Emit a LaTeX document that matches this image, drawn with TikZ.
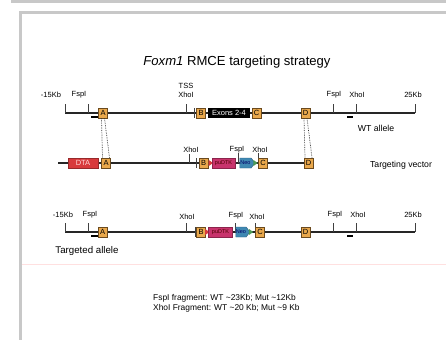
\documentclass[tikz,border=0pt]{standalone}
\usepackage{fontspec}
\setmainfont{Liberation Sans}
\usetikzlibrary{shapes.geometric,shapes.symbols}
\definecolor{boxor}{HTML}{E9A84C}
\definecolor{boxed}{HTML}{6B4A1E}
\definecolor{dtared}{HTML}{D83A3C}
\definecolor{pumag}{HTML}{C8336C}
\definecolor{neoblue}{HTML}{3F88B2}
\definecolor{neogreen}{HTML}{4C9A55}
\definecolor{frameg}{HTML}{C8C8C8}
\tikzset{
  lbl/.style={inner sep=0pt, font=\fontsize{7.5}{8}\selectfont},
  seg/.style={draw=boxed, fill=boxor, line width=0.6pt, minimum width=9pt, minimum height=10pt, inner sep=0pt, font=\fontsize{7.5}{8}\selectfont},
  mainline/.style={line width=1.1pt, draw=black!85},
  tk/.style={line width=0.7pt, draw=black!75},
  probe/.style={line width=2pt},
  exonbox/.style={fill=black, text=white, minimum width=42pt, minimum height=10pt, inner sep=0pt, font=\fontsize{7.5}{8}\selectfont},
  dtabox/.style={draw=dtared!70!black, fill=dtared, text=white!85!red, minimum width=30pt, minimum height=10pt, inner sep=0pt, line width=0.4pt, font=\fontsize{7.5}{8}\selectfont},
  pubox/.style={draw=pumag!70!black, fill=pumag, text=black!70!red, minimum height=10pt, inner sep=0pt, line width=0.4pt, font=\fontsize{5.5}{6}\selectfont},
  neobox/.style={signal, signal to=east, signal pointer angle=110, draw=neoblue!70!black, fill=neoblue, text=black!60!blue, minimum height=10pt, inner sep=0pt, line width=0.4pt, font=\fontsize{5.5}{6}\selectfont},
  redtri/.style={isosceles triangle, fill=dtared, minimum width=6pt, minimum height=3pt, inner sep=0pt, isosceles triangle apex angle=70},
  greentri/.style={isosceles triangle, fill=neogreen, minimum width=6pt, minimum height=4pt, inner sep=0pt, isosceles triangle apex angle=70},
  dots/.style={densely dotted, line width=0.7pt, draw=black!80},
  side/.style={inner sep=0pt, font=\fontsize{8.7}{9}\selectfont}
}
\begin{document}
\begin{tikzpicture}[x=1pt,y=-1pt]
\useasboundingbox (0,0) rectangle (446,340);
\fill[white] (0,0) rectangle (446,340);
% frame
\fill[frameg] (11,0) rectangle (446,3);
\fill[frameg] (19,11) rectangle (446,13.5);
\fill[frameg] (19,11) rectangle (22,340);
% faint separator
\draw[red!12, line width=0.6pt] (22,264) -- (446,264);

% title
\node[inner sep=0pt, font=\fontsize{13.1}{14}\selectfont] (title) at (237,62) {\textit{Foxm1} RMCE targeting strategy};

%% ---------- WT allele ----------
\coordinate (wtL) at (65,113);
\coordinate (wtR) at (415,113);
\draw[mainline] (wtL) -- (wtR);
\foreach \x in {65,88,186,333,356,415} \draw[tk] (\x,113) -- (\x,103.5);
\draw[tk] (194,108) -- (194,118);
\node[lbl] (wt15) at (51,95) {-15Kb};
\node[lbl] (wtF1) at (79,95) {FspI};
\node[lbl] (wtTSS) at (186,85.5) {TSS};
\node[lbl] (wtX1) at (186,95) {XhoI};
\node[lbl] (wtF2) at (334,95) {FspI};
\node[lbl] (wtX2) at (357,95) {XhoI};
\node[lbl] (wt25) at (413,95) {25Kb};
\draw[probe] (91,116.5) -- (98,116.5);
\draw[probe] (347,116.5) -- (353,116.5);
\node[seg] (Awt) at (103,113) {A};
\node[seg] (Bwt) at (201,113) {B};
\node[exonbox] (Ewt) at (229,113) {Exons 2-4};
\node[seg] (Cwt) at (256.5,113) {C};
\node[seg] (Dwt) at (305.5,113) {D};
\node[side] (wtlab) at (376,128) {WT allele};

%% ---------- Targeting vector ----------
\coordinate (tvL) at (58,163);
\node[seg] (Dtv) at (308.5,163) {D};
\draw[mainline] (tvL) -- (Dtv.west);
\draw[tk] (189,163) -- (189,154);
\draw[tk] (238,163) -- (238,152.5);
\draw[tk] (258,163) -- (258,153);
\draw[tk] (196,158) -- (196,168);
\node[lbl] (tvX1) at (191,149.5) {XhoI};
\node[lbl] (tvF1) at (237,149.5) {FspI};
\node[lbl] (tvX2) at (260,149.5) {XhoI};
\node[dtabox] (DTA) at (83,163) {DTA};
\node[seg] (Atv) at (106,163) {A};
\node[seg] (Btv) at (203.5,163) {B};
\node[redtri] (rtv) at (210.3,163) {};
\node[pubox, minimum width=23pt] (Ptv) at (223.5,163) {puDTK};
\node[neobox, minimum width=15pt] (Ntv) at (245.5,163) {Neo};
\node[greentri] (gtv) at (255,163) {};
\node[seg] (Ctv) at (263,163) {C};
\node[side] (tvlab) at (401,165) {Targeting vector};

% dotted homology lines
\draw[dots] ([xshift=-1.5pt]Awt.south) -- ([xshift=-3.5pt]Atv.north);
\draw[dots] ([xshift=1.5pt]Awt.south) -- ([xshift=3.5pt]Atv.north);
\draw[dots] ([xshift=-1.5pt]Dwt.south) -- ([xshift=-3.5pt]Dtv.north);
\draw[dots] ([xshift=1.5pt]Dwt.south) -- ([xshift=3.5pt]Dtv.north);

%% ---------- Targeted allele ----------
\coordinate (taL) at (65,232);
\coordinate (taR) at (415,232);
\draw[mainline] (taL) -- (taR);
\foreach \x in {65,88,186,235,255,333,356,415} \draw[tk] (\x,232) -- (\x,222.5);
\draw[tk] (195,227) -- (195,237);
\node[lbl] (ta15) at (63,215) {-15Kb};
\node[lbl] (taF1) at (90,215) {FspI};
\node[lbl] (taX1) at (187,217) {XhoI};
\node[lbl] (taF2) at (236,216) {FspI};
\node[lbl] (taX2) at (257,216.5) {XhoI};
\node[lbl] (taF3) at (335,215) {FspI};
\node[lbl] (taX3) at (358,215) {XhoI};
\node[lbl] (ta25) at (413,215) {25Kb};
\draw[probe] (91,235.5) -- (98,235.5);
\draw[probe] (347,235.5) -- (353,235.5);
\node[seg] (Ata) at (102.5,232) {A};
\node[seg] (Bta) at (201,232) {B};
\node[redtri] (rta) at (206.8,232) {};
\node[pubox, minimum width=24pt] (Pta) at (220.5,232) {puDTK};
\node[neobox, minimum width=14pt] (Nta) at (241,232) {Neo};
\node[greentri] (gta) at (250.5,232) {};
\node[seg] (Cta) at (260,232) {C};
\node[seg] (Dta) at (305.5,232) {D};
\node[inner sep=0pt, font=\fontsize{9.7}{10}\selectfont] (talab) at (87,251) {Targeted allele};

%% ---------- fragment sizes ----------
\node[inner sep=0pt, anchor=west, align=left, font=\fontsize{8.4}{10.3}\selectfont] (frag) at (153,303)
  {FspI fragment: WT \textasciitilde23Kb; Mut \textasciitilde12Kb\\XhoI Fragment: WT \textasciitilde20 Kb; Mut \textasciitilde9 Kb};
\end{tikzpicture}
\end{document}
